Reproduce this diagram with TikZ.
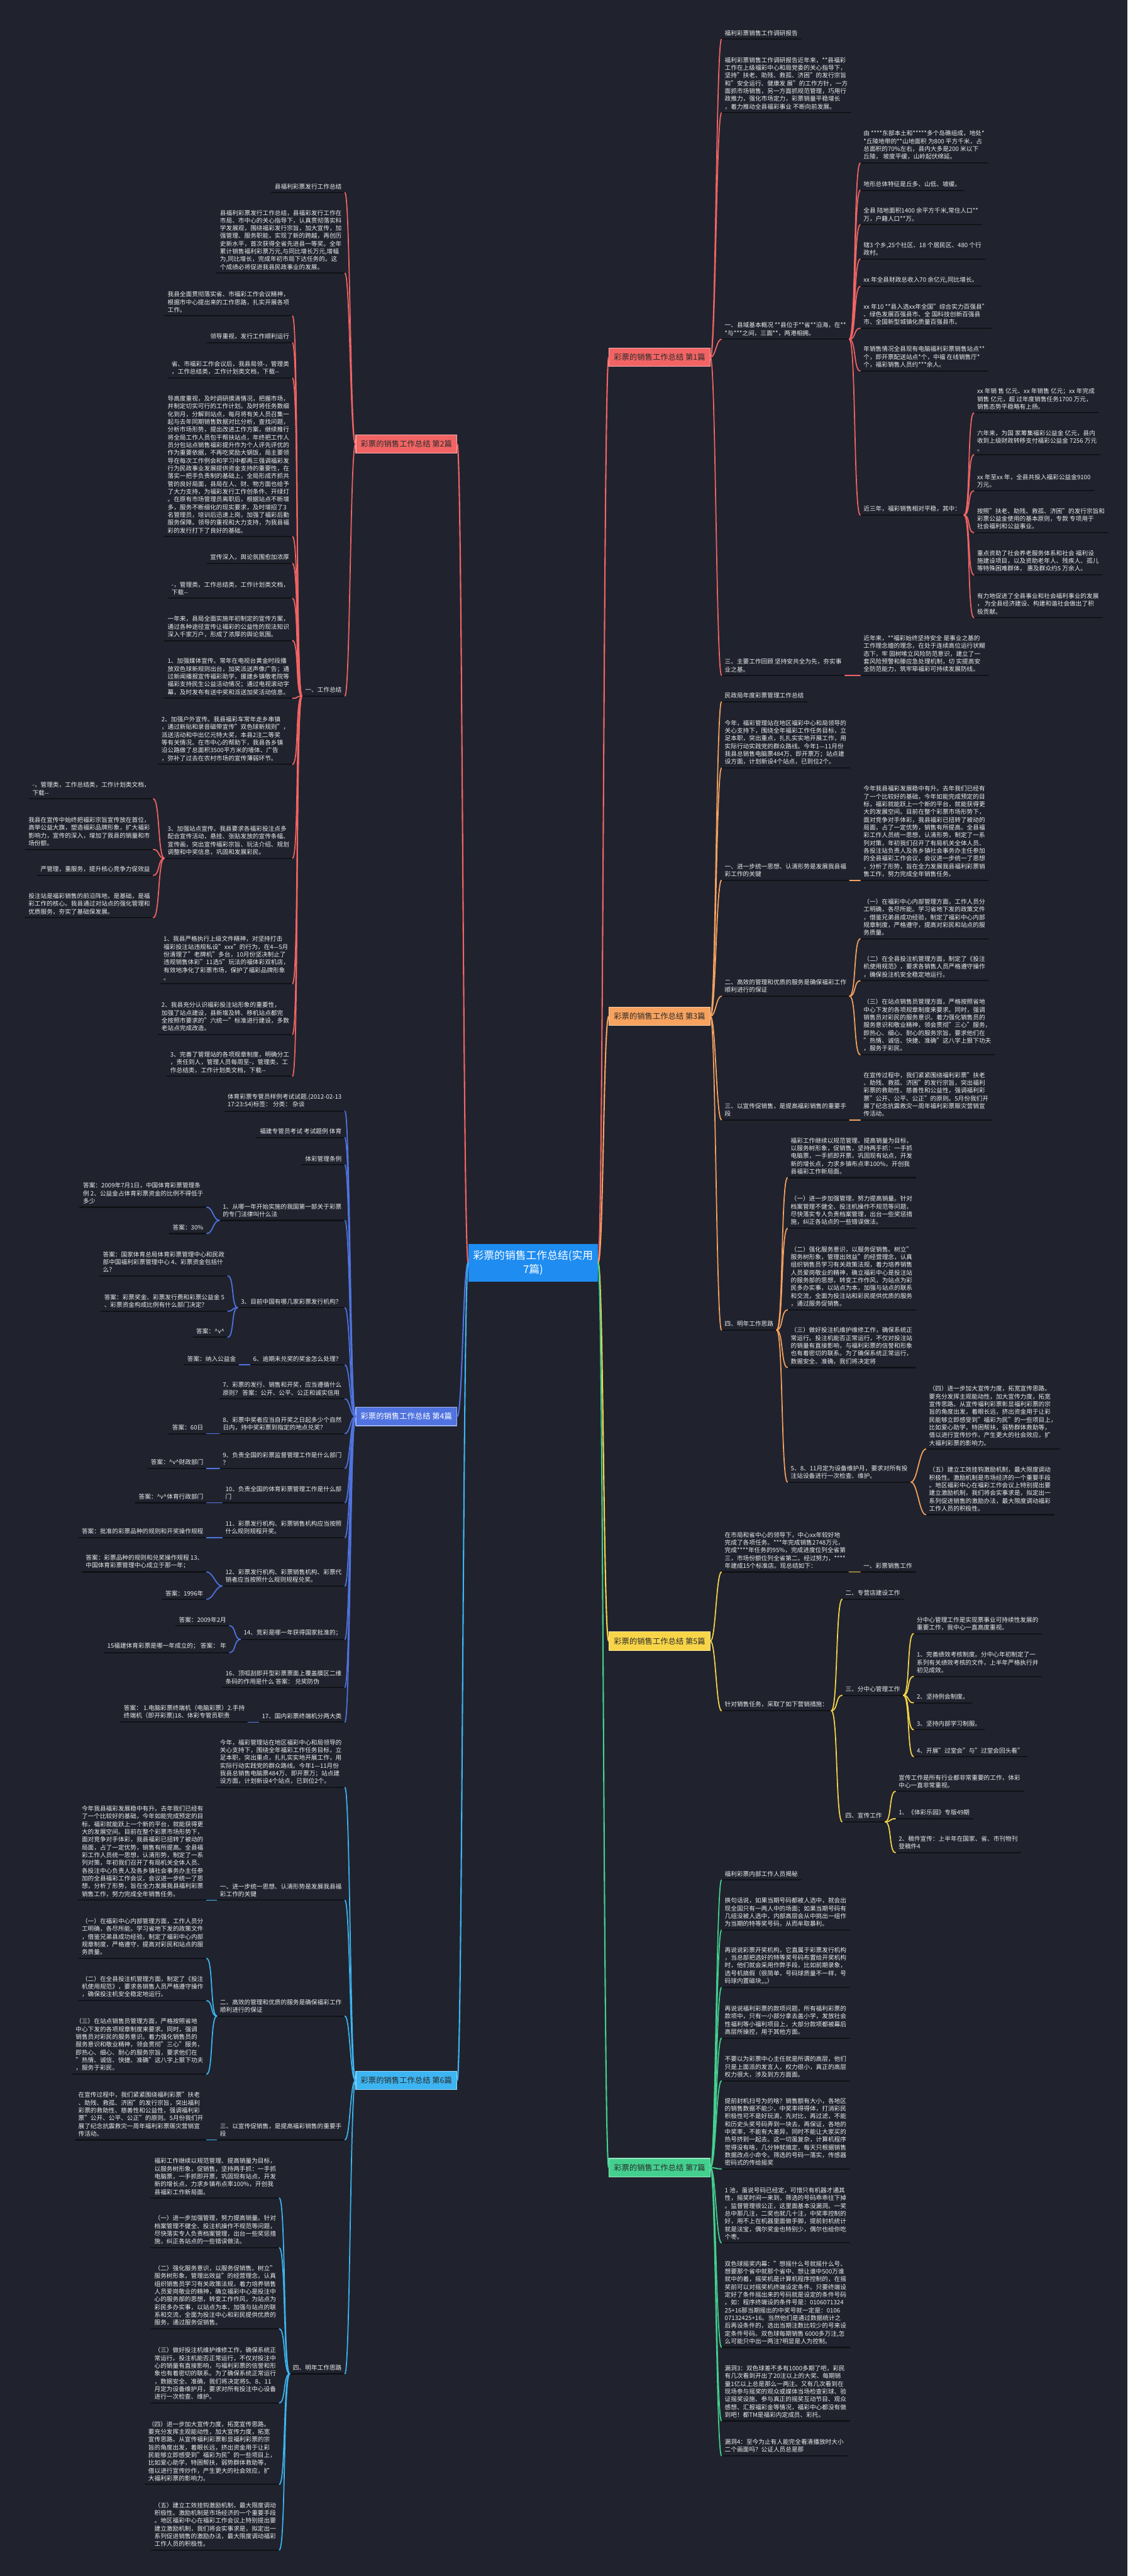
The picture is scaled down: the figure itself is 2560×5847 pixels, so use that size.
\documentclass[tikz,border=0pt]{standalone}
\usepackage{fontspec}
\setmainfont{Noto Sans CJK SC}
\definecolor{bgc}{HTML}{20232E}
\definecolor{ulc}{HTML}{101217}
\definecolor{txc}{HTML}{EDEDED}
\definecolor{mtx}{HTML}{2B2B2B}
\definecolor{cA}{HTML}{F26464}
\definecolor{cB}{HTML}{F7A25E}
\definecolor{cC}{HTML}{5073E0}
\definecolor{cD}{HTML}{F8D548}
\definecolor{cE}{HTML}{3DB5F2}
\definecolor{cF}{HTML}{43D08E}
\definecolor{cM}{HTML}{1E8CF0}
\newcommand\dbl{-\kern0pt-}
\newcommand\ca{\textasciicircum v\textasciicircum}
\newcommand\txSumm{今年，福彩管理站在地区福彩中心和局领导的\\关心支持下，围绕全年福彩工作任务目标，立\\足本职，突出重点，扎扎实实地开展工作，用\\实际行动实践党的群众路线。今年1—11月份\\我县总销售电脑票484万、即开票万；站点建\\设方面，计划新设4个站点，已到位2个。}
\newcommand\txOne{一、进一步统一思想、认清形势是发展我县福\\彩工作的关键}
\newcommand\txTwo{二、高效的管理和优质的服务是确保福彩工作\\顺利进行的保证}
\newcommand\txTwoA{（一）在福彩中心内部管理方面，工作人员分\\工明确，各尽所能。学习省地下发的政策文件\\，借鉴兄弟县成功经验，制定了福彩中心内部\\规章制度，严格遵守，提高对彩民和站点的服\\务质量。}
\newcommand\txTwoB{（二）在全县投注机管理方面，制定了《投注\\机使用规范》，要求各销售人员严格遵守操作\\，确保投注机安全稳定地运行。}
\newcommand\txTwoC{（三）在站点销售员管理方面，严格按照省地\\中心下发的各项规章制度来要求。同时，强调\\销售员对彩民的服务意识。着力强化销售员的\\服务意识和敬业精神，领会贯彻"三心"服务，\\即热心、细心、耐心的服务宗旨，要求他们在\\"热情、诚信、快捷、准确"这八字上狠下功夫\\，服务于彩民。}
\newcommand\txThree{三、以宣传促销售，是提高福彩销售的重要手\\段}
\newcommand\txThreeA{在宣传过程中，我们紧紧围绕福利彩票"扶老\\、助残、救孤、济困"的发行宗旨，突出福利\\彩票的救助性、慈善性和公益性，强调福利彩\\票"公开、公平、公正"的原则。5月份我们开\\展了纪念抗震救灾一周年福利彩票赈灾营销宣\\传活动。}
\newcommand\txPlan{福彩工作继续以规范管理、提高销量为目标，\\以服务树形象，促销售，坚持两手抓：一手抓\\电脑票，一手抓即开票，巩固现有站点，开发\\新的增长点，力求乡镇布点率100\%，开创我\\县福彩工作新局面。}
\newcommand\txPlanA{（一）进一步加强管理，努力提高销量。针对\\档案管理不健全、投注机操作不规范等问题，\\尽快落实专人负责档案管理，出台一些奖惩措\\施，纠正各站点的一些错误做法。}
\newcommand\txPlanD{（四）进一步加大宣传力度，拓宽宣传思路。\\要充分发挥主观能动性，加大宣传力度，拓宽\\宣传思路。从宣传福利彩票彰显福利彩票的宗\\旨的角度出发，着眼长远，挤出资金用于让彩\\民能够立即感受到"福彩为民"的一些项目上，\\比如爱心助学，特困帮扶，弱势群体救助等，\\借以进行宣传炒作，产生更大的社会效应，扩\\大福利彩票的影响力。}
\newcommand\txPlanE{（五）建立工效挂钩激励机制，最大限度调动\\积极性。激励机制是市场经济的一个重要手段\\。地区福彩中心在福彩工作会议上特别提出要\\建立激励机制，我们将会实事求是，拟定出一\\系列促进销售的激励办法，最大限度调动福彩\\工作人员的积极性。}
\newcommand\txDoc{-，管理类，工作总结类，工作计划类文档，\\下载\dbl}
\usetikzlibrary{calc}

\begin{document}
\begin{tikzpicture}[x=0.5pt,y=-0.5pt,line cap=round,line join=round,
  txt/.style={text=txc,font=\fontsize{6.9}{8.8}\selectfont,align=left,inner xsep=3.5pt,inner ysep=3.5pt,
    append after command={(\tikzlastnode.south west) edge[ulc,line width=1.5pt] (\tikzlastnode.south east)}},
  rt/.style={txt,anchor=south west},
  lt/.style={txt,anchor=south east},
  mainbox/.style={font=\fontsize{8.8}{10}\selectfont,text=mtx,minimum height=21pt,inner xsep=5.5pt,line width=0.8pt},
  br/.style={line width=1.25pt},
  trunk/.style={line width=1.5pt}]
  \useasboundingbox (0,0) rectangle (2560,5847);
  \fill[bgc] (0,0) rectangle (2560,5847);

  \node[fill=cM,text=white,font=\fontsize{12}{16}\selectfont,align=center,minimum width=147pt,minimum height=43pt,anchor=west] (C) at (1063,2866) {彩票的销售工作总结(实用\\7篇)};

  \node[mainbox,fill=cA,draw=cA!55!white,anchor=west] (R1) at (1382,811) {彩票的销售工作总结 第1篇};
  \node[mainbox,fill=cA,draw=cA!55!white,anchor=east] (L2) at (1038,1008) {彩票的销售工作总结 第2篇};
  \node[mainbox,fill=cB,draw=cB!55!white,anchor=west] (R3) at (1382,2307) {彩票的销售工作总结 第3篇};
  \node[mainbox,fill=cC,draw=cC!55!white,text=white,anchor=east] (L4) at (1038,3215) {彩票的销售工作总结 第4篇};
  \node[mainbox,fill=cD,draw=cD!55!white,anchor=west] (R5) at (1382,3725) {彩票的销售工作总结 第5篇};
  \node[mainbox,fill=cE,draw=cE!55!white,anchor=east] (L6) at (1038,4722) {彩票的销售工作总结 第6篇};
  \node[mainbox,fill=cF,draw=cF!55!white,anchor=west] (R7) at (1382,4920) {彩票的销售工作总结 第7篇};

  % 第1篇
  \node[rt] (r1a) at (1638,89) {福利彩票销售工作调研报告};
  \node[rt] (r1b) at (1638,256) {福利彩票销售工作调研报告近年来，**县福彩\\工作在上级福彩中心和局党委的关心指导下，\\坚持"扶老、助残、救孤、济困"的发行宗旨\\和"安全运行、健康发 展"的工作方针，一方\\面抓市场销售，另一方面抓规范管理，巧用行\\政推力，强化市场定力，彩票销量平稳增长\\，着力推动全县福彩事业 不断向前发展。};
  \node[rt] (r1c) at (1638,770) {一、县域基本概况 **县位于**省**沿海，在**\\{}*与***之间，三面**，两港相拥。};
  \node[rt] (r1c1) at (1953,370) {由 ****东部本土和*****多个岛礁组成，地处*\\{}*丘陵地带的**山地面积 为800 平方千米，占\\总面积的70\%左右，县内大多是200 米以下\\丘陵， 坡度平缓，山岭起伏绵延。};
  \node[rt] (r1c2) at (1953,432) {地形总体特征是丘多、山低、坡缓。};
  \node[rt] (r1c3) at (1953,510) {全县 陆地面积1400 余平方千米,常住人口**\\万，户籍人口**万。};
  \node[rt] (r1c4) at (1953,588) {辖3 个乡,25个社区、18 个居民区、480 个行\\政村。};
  \node[rt] (r1c5) at (1953,650) {xx 年全县财政总收入70 余亿元,同比增长。};
  \node[rt] (r1c6) at (1953,745) {xx 年10 **县入选xx年全国"综合实力百强县"\\、绿色发展百强县市、全 国科技创新百强县\\市、全国新型城镇化质量百强县市。};
  \node[rt] (r1c7) at (1953,842) {年销售情况全县现有电脑福利彩票销售站点**\\个，即开票配送站点*个，中福 在线销售厅*\\个，福彩销售人员约***余人。};
  \node[rt] (r1c8) at (1953,1169) {近三年，福彩销售相对平稳，其中：};
  \node[rt] (r1c8a) at (2211,937) {xx 年销 售 亿元、xx 年销售 亿元；xx 年完成\\销售 亿元，超 过年度销售任务1700 万元，\\销售态势平稳略有上扬。};
  \node[rt] (r1c8b) at (2211,1032) {六年来，为国 家筹集福彩公益金 亿元，县内\\收到上级财政转移支付福彩公益金 7256 万元\\。};
  \node[rt] (r1c8c) at (2211,1114) {xx 年至xx 年，全县共投入福彩公益金9100\\万元。};
  \node[rt] (r1c8d) at (2211,1209) {按照"扶老、助残、救孤、济困"的发行宗旨和\\彩票公益金使用的基本原则，专款 专项用于\\社会福利和公益事业。};
  \node[rt] (r1c8e) at (2211,1305) {重点资助了社会养老服务体系和社会 福利设\\施建设项目，以及资助老年人、残疾人、孤儿\\等特殊困难群体， 惠及群众约5 万余人。};
  \node[rt] (r1c8f) at (2211,1402) {有力地促进了全县事业和社会福利事业的发展\\， 为全县经济建设、构建和谐社会做出了积\\极贡献。};
  \node[rt] (r1d) at (1638,1533) {三、主要工作回顾 坚持安共全为先，夯实事\\业之基。};
  \node[rt] (r1d1) at (1953,1533) {近年来，**福彩始终坚持安全 是事业之基的\\工作理念嬗的理念，在处于连续高位运行状糊\\态下，牢 固树嗦立风险防范意识，建立了一\\套风险预警和滕应急处理机制，切 实提高安\\全防范能力，筑牢筚福彩可持续发展防线。};

  % 第3篇
  \node[rt] (r3a) at (1638,1593) {民政局年度彩票管理工作总结};
  \node[rt] (r3b) at (1638,1743) {\txSumm};
  \node[rt] (r3c) at (1638,1998) {\txOne};
  \node[rt] (r3c1) at (1953,1998) {今年我县福彩发展稳中有升。去年我们已经有\\了一个比较好的基础，今年如能完成预定的目\\标，福彩就能跃上一个新的平台，就能获得更\\大的发展空间。目前在整个彩票市场形势下，\\面对竞争对手体彩，我县福彩已扭转了被动的\\局面，占了一定优势，销售有所提高。全县福\\彩工作人员统一思想，认清形势，制定了一系\\列对策，年初我们召开了有局机关全体人员、\\各投注站负责人及各乡镇社会事务办主任参加\\的全县福彩工作会议，会议进一步统一了思想\\，分析了形势，旨在全力发展我县福利彩票销\\售工作，努力完成全年销售任务。};
  \node[rt] (r3d) at (1638,2261) {\txTwo};
  \node[rt] (r3d1) at (1953,2131) {\txTwoA};
  \node[rt] (r3d2) at (1953,2226) {\txTwoB};
  \node[rt] (r3d3) at (1953,2394) {\txTwoC};
  \node[rt] (r3e) at (1638,2542) {\txThree};
  \node[rt] (r3e1) at (1953,2542) {\txThreeA};
  \node[rt] (r3f) at (1638,3019) {四、明年工作思路};
  \node[rt] (r3f1) at (1788,2673) {\txPlan};
  \node[rt] (r3f2) at (1788,2788) {\txPlanA};
  \node[rt] (r3f3) at (1788,2973) {（二）强化服务意识，以服务促销售。树立"\\服务树形象，管理出效益"的经营理念，认真\\组织销售员学习有关政策法规，着力培养销售\\人员爱岗敬业的精神，确立福彩中心是投注站\\的服务部的思想，转变工作作风，为站点为彩\\民多办实事，以站点为本，加强与站点的联系\\和交流，全面为投注站和彩民提供优质的服务\\，通过服务促销售。};
  \node[rt] (r3f4) at (1788,3104) {（三）做好投注机维护维修工作，确保系统正\\常运行。投注机能否正常运行，不仅对投注站\\的销量有直接影响，与福利彩票的信誉和形象\\也有着密切的联系。为了确保系统正常运行，\\数据安全、准确，我们将决定将};
  \node[rt] (r3f5) at (1788,3364) {5、8、11月定为设备维护月，要求对所有投\\注站设备进行一次检查、维护。};
  \node[rt] (r3f5a) at (2102,3289) {\txPlanD};
  \node[rt] (r3f5b) at (2102,3438) {\txPlanE};

  % 第5篇
  \node[rt] (r5a) at (1638,3568) {在市局和省中心的领导下，中心xx年较好地\\完成了各项任务。***年完成销售2748万元，\\完成****年任务的95\%，完成进度位列全省第\\三，市场份额位列全省第二。经过努力，****\\年建成15个标准店。现总结如下：};
  \node[rt] (r5a1) at (1953,3568) {一、彩票销售工作};
  \node[rt] (r5b) at (1638,3883) {针对销售任务，采取了如下营销措施：};
  \node[rt] (r5b1) at (1912,3630) {二、专营店建设工作};
  \node[rt] (r5b2) at (1912,3848) {三、分中心管理工作};
  \node[rt] (r5b2a) at (2074,3708) {分中心管理工作是实现票事业可持续性发展的\\重要工作，我中心一直高度重视。};
  \node[rt] (r5b2b) at (2074,3805) {1、完善绩效考核制度。分中心年初制定了一\\系列有关绩效考核的文件，上半年严格执行并\\初见成效。};
  \node[rt] (r5b2c) at (2074,3865) {2、坚持例会制度。};
  \node[rt] (r5b2d) at (2074,3926) {3、坚持内部学习制服。};
  \node[rt] (r5b2e) at (2074,3987) {4、开展"过堂会"与"过堂会回头看"};
  \node[rt] (r5b3) at (1912,4135) {四、宣传工作};
  \node[rt] (r5b3a) at (2033,4066) {宣传工作是所有行业都非常重要的工作，体彩\\中心一直非常重视。};
  \node[rt] (r5b3b) at (2033,4128) {1、《体彩乐园》专版49期};
  \node[rt] (r5b3c) at (2033,4205) {2、稿件宣传：上半年在国家、省、市刊物刊\\登稿件4};

  % 第7篇
  \node[rt] (r7a) at (1638,4267) {福利彩票内部工作人员揭秘};
  \node[rt] (r7b) at (1638,4381) {换句话说，如果当期号码都被人选中，就会出\\现全国只有一两人中的场面；如果当期号码有\\几组没被人选中，内部高层会从中挑出一组作\\为当期的特等奖号码，从而牟取暴利。};
  \node[rt] (r7c) at (1638,4511) {再说说彩票开奖机构，它直属于彩票发行机构\\，当总部把选好的特等奖号码布置给开奖机构\\时，他们就会采用作弊手段，比如前期录象，\\选号机搞假（很简单，号码球质量不一样，号\\码球内置磁块„„）};
  \node[rt] (r7d) at (1638,4626) {再说说福利彩票的款项问题，所有福利彩票的\\款项中，只有一小部分拿去盖小学，发放社会\\性福利等小福利项目上，大部分款项都被幕后\\高层所操控，用于其他方面。};
  \node[rt] (r7e) at (1638,4723) {不要以为彩票中心主任就是所谓的高层，他们\\只是上面派的发言人，权力很小，真正的高层\\权力很大，涉及到方方面面。};
  \node[rt] (r7f) at (1638,4923) {提前封机扫号为的啥？销售额有大小，各地区\\的销售数据不能少，中奖率得得体，打消彩民\\积极性可不是好玩滴，先对比，再过滤，不能\\和历史头奖号码弄到一块去，再保证，各地的\\中奖率，不能有大差异，同时不能让大家买的\\热号挤到一起去。这一切虽复杂，计算机程序\\觉得没有啥，几分钟就搞定，每天只根据销售\\数据改点小命令。筛选的号码一落实，传感器\\密码式的传给摇奖};
  \node[rt] (r7g) at (1638,5091) {1 池，虽说号码已经定，可惜只有机器才通其\\性，摇奖时间一来到，筛选的号码乖乖往下掉\\。监督管理很公正，这里面基本没漏洞。一奖\\总中那几注，二奖也就几十注，中奖率控制的\\好，用不上在机器里面做手脚，提前封机统计\\就是法宝，偶尔奖金也特别少，偶尔也给你吃\\个枣。};
  \node[rt] (r7h) at (1638,5328) {双色球摇奖内幕："想摇什么号就摇什么号、\\想要那个省中就那个省中、想让谁中500万谁\\就中的着，摇奖机是计算机程序控制的，在摇\\奖前可以对摇奖机终端设定条件。只要终端设\\定好了条件摇出来的号码就是设定的条件号码\\。如：程序终端设的条件号是：0106071324\\25+16那当期摇出的中奖号就一定是：0106\\07132425+16。当然他们是通过数据统计之\\后再设条件的，选出当期注数比较少的号来设\\定条件号码。双色球每期销售 6000多万注,怎\\么可能只中出一两注?明显是人为控制。};
  \node[rt] (r7i) at (1638,5495) {漏洞3：双色球差不多有1000多期了吧，彩民\\有几次看到开出了20注以上的大奖、每期销\\量1亿以上总是那么一两注。又有几次看到在\\现场参与摇奖的观众或媒体当场检查彩球、验\\证摇奖设施、参与真正的摇奖互动节目、观众\\感想、汇报福彩金等情况，福彩中心都没有做\\到吧！都TM是福彩内定成员、彩托。};
  \node[rt] (r7j) at (1638,5574) {漏洞4：至今为止有人能完全看清播放时大小\\二个画面吗？公证人员总是那};

  % 第2篇
  \node[lt] (l2a) at (783,437) {县福利彩票发行工作总结};
  \node[lt] (l2b) at (783,620) {县福利彩票发行工作总结，县福彩发行工作在\\市局、市中心的关心指导下，认真贯彻落实科\\学发展观，围绕福彩发行宗旨，加大宣传，加\\强管理、服务职能，实现了新的跨越，再创历\\史新水平，首次获得全省先进县一等奖。全年\\累计销售福利彩票万元,与同比增长万元,增幅\\为,同比增长，完成年初市局下达任务的。这\\个成绩必将促进我县民政事业的发展。};
  \node[lt] (l2c) at (783,1580) {一、工作总结};
  \node[lt] (l2c1) at (664,717) {我县全面贯彻落实省、市福彩工作会议精神，\\根据市中心提出来的工作思路，扎实开展各项\\工作。};
  \node[lt] (l2c2) at (664,778) {领导重视，发行工作顺利运行};
  \node[lt] (l2c3) at (664,858) {省、市福彩工作会议后，我县局领-，管理类\\，工作总结类，工作计划类文档，下载\dbl};
  \node[lt] (l2c4) at (664,1218) {导高度重视，及时调研摸清情况，把握市场，\\并制定切实可行的工作计划。及时将任务数细\\化到月，分解到站点，每月将有关人员召集一\\起与去年同期销售数据对比分析，查找问题，\\分析市场形势，提出改进工作方案，继续推行\\将全局工作人员包干帮扶站点，年终把工作人\\员分包站点销售福彩提升作为个人评先评优的\\作为重要依据，不再吃奖励大锅饭，局主要领\\导在每次工作例会和学习中都再三强调福彩发\\行为民政事业发展提供资金支持的重要性，在\\落实一把手负责制的基础上，全局形成齐抓共\\管的良好局面，县局在人、财、物方面也给予\\了大力支持，为福彩发行工作创条件、开绿灯\\。在原有市场管理员离职后，根据站点不断增\\多，服务不断细化的现实要求，及时增招了3\\名管理员，培训后迅速上岗，加强了福彩后勤\\服务保障。领导的重视和大力支持，为我县福\\彩的发行打下了良好的基础。};
  \node[lt] (l2c5) at (664,1279) {宣传深入，舆论氛围愈加浓厚};
  \node[lt] (l2c6) at (664,1358) {\txDoc};
  \node[lt] (l2c7) at (664,1454) {一年来，县局全面实施年初制定的宣传方案，\\通过各种途径宣传让福彩的公益性的现法知识\\深入千家万户，形成了浓厚的舆论氛围。};
  \node[lt] (l2c8) at (664,1585) {1、加强媒体宣传。常年在电视台黄金时段播\\放双色球新规则出台，加奖派送声像广告；通\\过新闻播报宣传福彩助学，援建乡镇敬老院等\\福彩支持民生公益活动情况；通过电视滚动字\\幕，及时发布有送中奖和派送加奖活动信息。};
  \node[lt] (l2c9) at (664,1735) {2、加强户外宣传。我县福彩车常年走乡串镇\\，通过新贴和录音磁带宣传"双色球新规则"，\\派送活动和中出亿元特大奖，本县2注二等奖\\等有关情况。在市中心的帮助下，我县各乡镇\\沿公路做了总面积3500平方米的墙体、广告\\，弥补了过去在农村市场的宣传薄弱环节。};
  \node[lt] (l2c10) at (664,1948) {3、加强站点宣传。我县要求各福彩投注点多\\配合宣传活动，悬挂、张贴发放的宣传条幅、\\宣传画，突出宣传福彩宗旨、玩法介绍、规划\\调整和中奖信息，巩固和发展彩民。};
  \node[lt] (l2c10a) at (348,1813) {\txDoc};
  \node[lt] (l2c10b) at (348,1928) {我县在宣传中始终把福彩宗旨宣传放在首位，\\高举公益大旗，塑造福彩品牌形象，扩大福彩\\影响力，宣传的深入，增加了我县的销量和市\\场份额。};
  \node[lt] (l2c10c) at (348,1987) {严管理，重服务，提升核心竞争力促效益};
  \node[lt] (l2c10d) at (348,2083) {投注站是福彩销售的前沿阵地，是基础，是福\\彩工作的核心。我县通过对站点的强化管理和\\优质服务，夯实了基础保发展。};
  \node[lt] (l2c11) at (664,2233) {1、我县严格执行上级文件精神，对坚持打击\\福彩投注站违规私设"xxx"的行为，在4—5月\\份清理了"老牌机"多台，10月份坚决制止了\\违规销售体彩"11选5"玩法的福体彩双机店，\\有效地净化了彩票市场，保护了福彩品牌形象\\。};
  \node[lt] (l2c12) at (664,2348) {2、我县充分认识福彩投注站形象的重要性，\\加强了站点建设，县新增及转、移机站点都完\\全按照市要求的"六统一"标准进行建设，多数\\老站点完成改造。};
  \node[lt] (l2c13) at (664,2443) {3、完善了管理站的各项规章制度，明确分工\\，责任到人，管理人员每周至-，管理类，工\\作总结类，工作计划类文档，下载\dbl};

  % 第4篇
  \node[lt] (l4a) at (783,2522) {体育彩票专管员样例考试试题.(2012-02-13\\17:23:54)标签： 分类： 杂谈};
  \node[lt] (l4b) at (783,2582) {福建专管员考试 考试题例 体育};
  \node[lt] (l4c) at (783,2644) {体彩管理条例};
  \node[lt] (l4d) at (783,2770) {1、从哪一年开始实施的我国第一部关于彩票\\的专门法律叫什么法};
  \node[lt] (l4d1) at (469,2740) {答案：2009年7月1日，中国体育彩票管理条\\例 2、公益金占体育彩票资金的比例不得低于\\多少};
  \node[lt] (l4d2) at (469,2800) {答案：30\%};
  \node[lt] (l4e) at (783,2968) {3、目前中国有哪几家彩票发行机构？};
  \node[lt] (l4e1) at (517,2896) {答案：国家体育总局体育彩票管理中心和民政\\部中国福利彩票管理中心 4、彩票资金包括什\\么？};
  \node[lt] (l4e2) at (517,2976) {答案：彩票奖金、彩票发行费和彩票公益金 5\\、彩票资金构成比例有什么部门决定？};
  \node[lt] (l4e3) at (517,3035) {答案：\ca};
  \node[lt] (l4f) at (783,3098) {6、逾期未兑奖的奖金怎么处理？};
  \node[lt] (l4f1) at (543,3098) {答案：纳入公益金};
  \node[lt] (l4g) at (783,3175) {7、彩票的发行、销售和开奖，应当遵循什么\\原则？ 答案：公开、公平、公正和诚实信用};
  \node[lt] (l4h) at (783,3254) {8、彩票中奖者应当自开奖之日起多少个自然\\日内，持中奖彩票到指定的地点兑奖？};
  \node[lt] (l4h1) at (469,3254) {答案：60日};
  \node[lt] (l4i) at (783,3333) {9、负责全国的彩票监督管理工作是什么部门\\？};
  \node[lt] (l4i1) at (469,3333) {答案：\ca{}财政部门};
  \node[lt] (l4j) at (783,3411) {10、负责全国的体育彩票管理工作是什么部\\门};
  \node[lt] (l4j1) at (469,3411) {答案：\ca{}体育行政部门};
  \node[lt] (l4k) at (783,3490) {11、彩票发行机构、彩票销售机构应当按照\\什么规则规程开奖。};
  \node[lt] (l4k1) at (469,3490) {答案：批准的彩票品种的规则和开奖操作规程};
  \node[lt] (l4l) at (783,3600) {12、彩票发行机构、彩票销售机构、彩票代\\销者应当按照什么规则规程兑奖。};
  \node[lt] (l4l1) at (469,3568) {答案：彩票品种的规则和兑奖操作规程 13、\\中国体育彩票管理中心成立于那一年；};
  \node[lt] (l4l2) at (469,3630) {答案：1996年};
  \node[lt] (l4m) at (783,3721) {14、竞彩是哪一年获得国家批准的；};
  \node[lt] (l4m1) at (521,3690) {答案：2009年2月};
  \node[lt] (l4m2) at (521,3751) {15福建体育彩票是哪一年成立的； 答案： 年};
  \node[lt] (l4n) at (783,3830) {16、顶呱刮即开型彩票票面上覆盖膜区二维\\条码的作用是什么 答案： 兑奖防伪};
  \node[lt] (l4o) at (783,3909) {17、国内彩票终端机分两大类};
  \node[lt] (l4o1) at (563,3909) {答案： 1.电脑彩票终端机（电脑彩票）2.手持\\终端机（即开彩票)18、体彩专管员职责};

  % 第6篇
  \node[lt] (l6a) at (783,4057) {\txSumm};
  \node[lt] (l6b) at (783,4313) {\txOne};
  \node[lt] (l6b1) at (469,4313) {今年我县福彩发展稳中有升。去年我们已经有\\了一个比较好的基础，今年如能完成预定的目\\标，福彩就能跃上一个新的平台，就能获得更\\大的发展空间。目前在整个彩票市场形势下，\\面对竞争对手体彩，我县福彩已扭转了被动的\\局面，占了一定优势，销售有所提高。全县福\\彩工作人员统一思想，认清形势，制定了一系\\列对策，年初我们召开了有局机关全体人员、\\各投注中心负责人及各乡镇社会事务办主任参\\加的全县福彩工作会议，会议进一步统一了思\\想，分析了形势，旨在全力发展我县福利彩票\\销售工作，努力完成全年销售任务。};
  \node[lt] (l6c) at (783,4576) {\txTwo};
  \node[lt] (l6c1) at (469,4445) {\txTwoA};
  \node[lt] (l6c2) at (469,4541) {\txTwoB};
  \node[lt] (l6c3) at (469,4708) {\txTwoC};
  \node[lt] (l6d) at (783,4857) {\txThree};
  \node[lt] (l6d1) at (469,4857) {\txThreeA};
  \node[lt] (l6e) at (783,5388) {四、明年工作思路};
  \node[lt] (l6e1) at (634,4989) {\txPlan};
  \node[lt] (l6e2) at (634,5102) {\txPlanA};
  \node[lt] (l6e3) at (634,5286) {（二）强化服务意识，以服务促销售。树立"\\服务树形象，管理出效益"的经营理念，认真\\组织销售员学习有关政策法规，着力培养销售\\人员爱岗敬业的精神，确立福彩中心是投注中\\心的服务部的思想，转变工作作风，为站点为\\彩民多办实事，以站点为本，加强与站点的联\\系和交流，全面为投注中心和彩民提供优质的\\服务，通过服务促销售。};
  \node[lt] (l6e4) at (634,5454) {（三）做好投注机维护维修工作，确保系统正\\常运行。投注机能否正常运行，不仅对投注中\\心的销量有直接影响，与福利彩票的信誉和形\\象也有着密切的联系。为了确保系统正常运行\\，数据安全、准确，我们将决定将5、8、11\\月定为设备维护月，要求对所有投注中心设备\\进行一次检查、维护。};
  \node[lt] (l6e5) at (634,5639) {\txPlanD};
  \node[lt] (l6e6) at (634,5788) {\txPlanE};

  \foreach \m/\c in {R1/cA,R3/cB,R5/cD,R7/cF}
    \draw[trunk,\c] (C.east) .. controls +(12,0) and +(-12,0) .. (\m.west);
  \foreach \m/\c in {L2/cA,L4/cC,L6/cE}
    \draw[trunk,\c] (C.west) .. controls +(-12,0) and +(12,0) .. (\m.east);

  \foreach \m/\k/\c in {R1/r1a/cA,R1/r1b/cA,R1/r1c/cA,R1/r1d/cA,
      R3/r3a/cB,R3/r3b/cB,R3/r3c/cB,R3/r3d/cB,R3/r3e/cB,R3/r3f/cB,
      R5/r5a/cD,R5/r5b/cD,
      R7/r7a/cF,R7/r7b/cF,R7/r7c/cF,R7/r7d/cF,R7/r7e/cF,R7/r7f/cF,R7/r7g/cF,R7/r7h/cF,R7/r7i/cF,R7/r7j/cF}
    \draw[br,\c] (\m.east) .. controls +(12,0) and +(-12,0) .. (\k.south west);
  \foreach \m/\k/\c in {L2/l2a/cA,L2/l2b/cA,L2/l2c/cA,
      L4/l4a/cC,L4/l4b/cC,L4/l4c/cC,L4/l4d/cC,L4/l4e/cC,L4/l4f/cC,L4/l4g/cC,L4/l4h/cC,L4/l4i/cC,L4/l4j/cC,L4/l4k/cC,L4/l4l/cC,L4/l4m/cC,L4/l4n/cC,L4/l4o/cC,
      L6/l6a/cE,L6/l6b/cE,L6/l6c/cE,L6/l6d/cE,L6/l6e/cE}
    \draw[br,\c] (\m.west) .. controls +(-12,0) and +(12,0) .. (\k.south east);

  \foreach \p/\k/\c in {r1c/r1c1/cA,r1c/r1c2/cA,r1c/r1c3/cA,r1c/r1c4/cA,r1c/r1c5/cA,r1c/r1c6/cA,r1c/r1c7/cA,r1c/r1c8/cA,
      r1c8/r1c8a/cA,r1c8/r1c8b/cA,r1c8/r1c8c/cA,r1c8/r1c8d/cA,r1c8/r1c8e/cA,r1c8/r1c8f/cA,r1d/r1d1/cA,
      r3c/r3c1/cB,r3d/r3d1/cB,r3d/r3d2/cB,r3d/r3d3/cB,r3e/r3e1/cB,
      r3f/r3f1/cB,r3f/r3f2/cB,r3f/r3f3/cB,r3f/r3f4/cB,r3f/r3f5/cB,r3f5/r3f5a/cB,r3f5/r3f5b/cB,
      r5a/r5a1/cD,r5b/r5b1/cD,r5b/r5b2/cD,r5b/r5b3/cD,
      r5b2/r5b2a/cD,r5b2/r5b2b/cD,r5b2/r5b2c/cD,r5b2/r5b2d/cD,r5b2/r5b2e/cD,
      r5b3/r5b3a/cD,r5b3/r5b3b/cD,r5b3/r5b3c/cD}
    \draw[br,\c] (\p.south east) .. controls +(15,0) and +(-15,0) .. (\k.south west);
  \foreach \p/\k/\c in {l2c/l2c1/cA,l2c/l2c2/cA,l2c/l2c3/cA,l2c/l2c4/cA,l2c/l2c5/cA,l2c/l2c6/cA,l2c/l2c7/cA,
      l2c/l2c8/cA,l2c/l2c9/cA,l2c/l2c10/cA,l2c/l2c11/cA,l2c/l2c12/cA,l2c/l2c13/cA,
      l2c10/l2c10a/cA,l2c10/l2c10b/cA,l2c10/l2c10c/cA,l2c10/l2c10d/cA,
      l4d/l4d1/cC,l4d/l4d2/cC,l4e/l4e1/cC,l4e/l4e2/cC,l4e/l4e3/cC,l4f/l4f1/cC,l4h/l4h1/cC,l4i/l4i1/cC,
      l4j/l4j1/cC,l4k/l4k1/cC,l4l/l4l1/cC,l4l/l4l2/cC,l4m/l4m1/cC,l4m/l4m2/cC,l4o/l4o1/cC,
      l6b/l6b1/cE,l6c/l6c1/cE,l6c/l6c2/cE,l6c/l6c3/cE,l6d/l6d1/cE,
      l6e/l6e1/cE,l6e/l6e2/cE,l6e/l6e3/cE,l6e/l6e4/cE,l6e/l6e5/cE,l6e/l6e6/cE}
    \draw[br,\c] (\p.south west) .. controls +(-15,0) and +(15,0) .. (\k.south east);
\end{tikzpicture}
\end{document}
